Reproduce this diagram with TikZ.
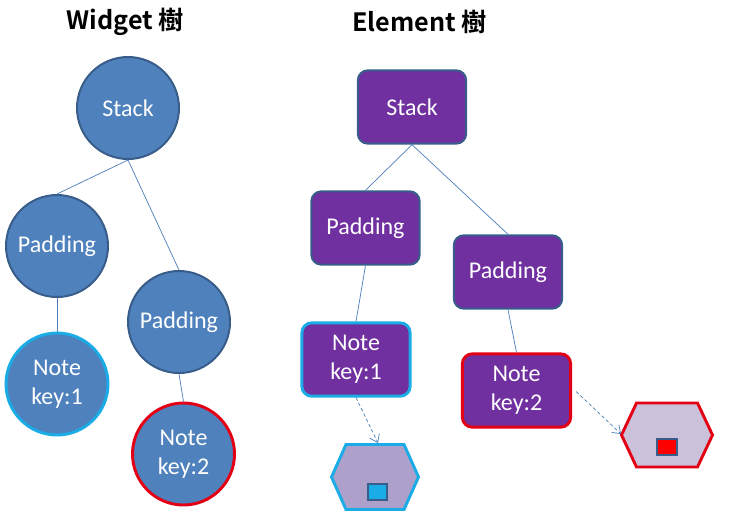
\documentclass[tikz,border=0pt]{standalone}
\usepackage{fontspec}
\usetikzlibrary{arrows.meta}
\setmainfont{Carlito}
\newfontfamily\titlefont{Noto Sans CJK TC}[BoldFont={Noto Sans CJK TC Bold}]
\definecolor{wfill}{HTML}{4F81BD}
\definecolor{wedge}{HTML}{385D8A}
\definecolor{efill}{HTML}{7030A0}
\definecolor{keyblue}{HTML}{19ACE6}
\definecolor{keyred}{RGB}{228,0,20}
\definecolor{linkblue}{HTML}{4A7EBB}
\definecolor{hexA}{HTML}{ADA0CA}
\definecolor{hexB}{HTML}{CCC1DA}
\tikzset{
  widget/.style={circle, draw=wedge, line width=1.7pt, fill=wfill, text=white,
    minimum size=3.06cm, inner sep=0pt, align=center,
    font=\fontsize{20.5}{25}\selectfont},
  element/.style={rectangle, rounded corners=0.3cm, draw=wedge, line width=1.7pt,
    fill=efill, text=white, minimum width=3.25cm, minimum height=2.2cm,
    inner sep=0pt, align=center, font=\fontsize{20.5}{25}\selectfont},
  keyone/.style={draw=keyblue, line width=2.5pt},
  keytwo/.style={draw=keyred, line width=2.5pt},
  link/.style={draw=linkblue, line width=0.6pt},
  pointer/.style={link, dash pattern=on 3pt off 2pt,
    -{Straight Barb[length=2.2mm, width=3.2mm]}},
  title/.style={font=\titlefont\bfseries\fontsize{21.5}{26}\selectfont},
  marker/.style={rectangle, draw=wedge, line width=1.7pt, inner sep=0pt}
}
\begin{document}
\begin{tikzpicture}[x=0.03cm, y=-0.03cm] % pixel grid of the page
\useasboundingbox (0,0) rectangle (729,523);

\node [title] (wtitle) at (125.5,22) {Widget 樹};
\node [title] (etitle) at (419.5,22) {Element 樹};

% widget tree
\node [widget] (wstack) at (128,108) {Stack};
\node [widget] (wpadl)  at (57,246)  {Padding};
\node [widget] (wpadr)  at (179,322) {Padding};
\node [widget, keyone] (wnotea) at (57,384)  {Note\\key:1};
\node [widget, keytwo] (wnoteb) at (183.5,454) {Note\\key:2};

\draw [link] (wstack.south) -- (wpadl.north);
\draw [link] (wstack.south) -- (wpadr.north);
\draw [link] (wpadl.south) -- (wnotea.north);
\draw [link] (wpadr.south) -- (wnoteb.north);

% element tree
\node [element] (estack) at (412,107) {Stack};
\node [element] (epadl)  at (365.5,228) {Padding};
\node [element] (epadr)  at (508,272) {Padding};
\node [element, keyone] (enotea) at (356,359.5) {Note\\key:1};
\node [element, keytwo] (enoteb) at (516.5,390.5) {Note\\key:2};

\draw [link] (estack.south) -- (epadl.north);
\draw [link] (estack.south) -- (epadr.north);
\draw [link] (epadl.south) -- (enotea.north);
\draw [link] (epadr.south) -- (enoteb.north);

% render objects
\draw [draw=keyblue, line width=2.5pt, fill=hexA, line join=miter]
  (331.5,477) -- (346,444.5) -- (404,444.5) -- (418.5,477) -- (404,509.5) -- (346,509.5) -- cycle;
\draw [draw=keyred, line width=2.5pt, fill=hexB, line join=miter]
  (621.5,435) -- (636.5,403) -- (697.5,403) -- (712.5,435) -- (697.5,467) -- (636.5,467) -- cycle;
\coordinate (hexatop) at (378,443);
\coordinate (hexbleft) at (621,434);

\node [marker, fill=keyblue, minimum width=0.57cm, minimum height=0.46cm] (sqa) at (377.5,492) {};
\node [marker, fill=red, minimum width=0.6cm, minimum height=0.48cm] (sqb) at (667,447) {};

\draw [pointer] (enotea.south) -- (hexatop);
\draw [pointer] (enoteb.east) ++(4,1) -- (hexbleft);

\end{tikzpicture}
\end{document}
